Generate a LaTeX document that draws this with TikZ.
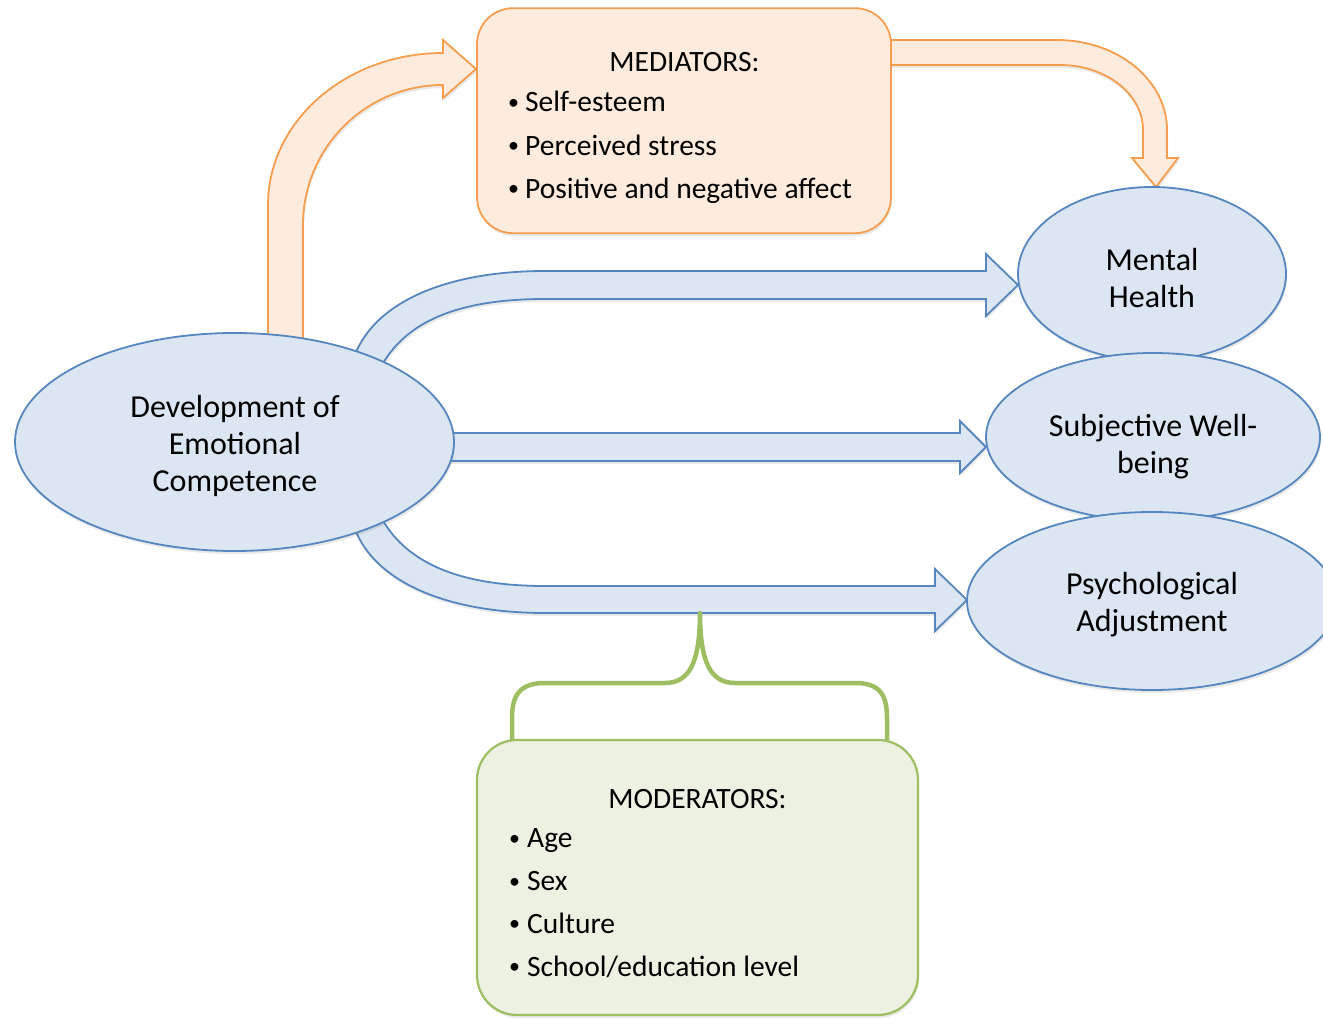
\documentclass[tikz,border=0pt]{standalone}
\usepackage{fontspec}
\setmainfont{Carlito}
\usetikzlibrary{shapes.geometric,shadows}
\definecolor{bluefill}{RGB}{220,230,242}
\definecolor{bluebd}{RGB}{86,134,192}
\definecolor{orgfill}{RGB}{253,235,222}
\definecolor{orgbd}{RGB}{247,157,78}
\definecolor{grnfill}{RGB}{236,241,225}
\definecolor{grnbd}{RGB}{157,190,97}
\newcommand\mybul[1]{\makebox[#1][l]{\hspace{1pt}\raisebox{2.5pt}{\fontsize{22}{22}\selectfont •}}}
\begin{document}
\begin{tikzpicture}[x=1pt,y=-1pt,
  shd/.style={drop shadow={shadow xshift=1pt,shadow yshift=-3pt,opacity=0.14,fill=black!60}},
  bshape/.style={draw=bluebd,fill=bluefill,line width=1.8pt,shd},
  oshape/.style={draw=orgbd,fill=orgfill,line width=1.8pt,shd},
  gshape/.style={draw=grnbd,fill=grnfill,line width=2.2pt,shd},
  ell/.style={ellipse,bshape,inner sep=0pt},
  ctext/.style={font=\fontsize{32}{37}\selectfont,align=center,anchor=base,inner sep=0pt},
  ltext/.style={font=\fontsize{29.5}{43.2}\selectfont,align=left,anchor=base west,inner sep=0pt},
  mtext/.style={font=\fontsize{29.5}{42.7}\selectfont,align=left,anchor=base west,inner sep=0pt},
  ttext/.style={font=\fontsize{29.5}{43}\selectfont,anchor=base,inner sep=0pt},
  brace/.style={draw=grnbd,line width=4.5pt,line cap=butt,line join=round}
]
\useasboundingbox (0,0) rectangle (1323,1019);

% orange arrow: development -> mediators
\path[oshape] (268,345) -- (268,205) .. controls (268,121.1) and (346.3,53) .. (443,53)
  -- (443,40) -- (476,69) -- (443,98) -- (443,85)
  .. controls (365.7,85) and (303,147.7) .. (303,225) -- (303,345) -- cycle;

% blue arrows
\path[bshape] (346,374) -- (357,350) .. controls (380,300) and (450,271) .. (545,271)
  -- (986,271) -- (986,254) -- (1018,285) -- (986,316) -- (986,299) -- (545,299)
  .. controls (465,299) and (412,318) .. (385,360) -- (372,380) -- cycle;
\path[bshape] (440,433) -- (960,433) -- (960,421) -- (986,447) -- (960,473) -- (960,461) -- (440,461) -- cycle;
\path[bshape] (346,510) -- (357,534) .. controls (380,584) and (450,613) .. (545,613)
  -- (935,613) -- (935,631) -- (967,600) -- (935,569) -- (935,586) -- (545,586)
  .. controls (465,586) and (412,566) .. (385,524) -- (372,504) -- cycle;

% orange arrow: mediators -> mental health
\path[oshape] (880,40) -- (1057,40) .. controls (1117.8,40) and (1167,80.3) .. (1167,130)
  -- (1167,158) -- (1178,158) -- (1156,187) -- (1132,158) -- (1143,158) -- (1143,130)
  .. controls (1143,94.1) and (1105.8,65) .. (1060,65) -- (880,65) -- cycle;

% ellipses
\node[ell,minimum width=439pt,minimum height=218pt] (dev) at (234.5,442) {};
\node[ctext] (devt) at (235,491.7) {Development of\\Emotional\\Competence};

\node[ell,minimum width=268pt,minimum height=174pt] (mh) at (1152,274) {};
\node[ctext] (mht) at (1152,307) {Mental\\Health};

\node[ell,minimum width=334pt,minimum height=168pt] (swb) at (1153,437) {};
\node[ctext] (swbt) at (1153,473.3) {Subjective Well-\\being};

\node[ell,minimum width=370pt,minimum height=178pt] (pa) at (1152,601) {};
\node[ctext] (pat) at (1152,631.7) {Psychological\\Adjustment};

% mediators box
\node[oshape,rectangle,rounded corners=36pt,minimum width=414pt,minimum height=225pt,inner sep=0pt] (med) at (684,120.7) {};
\node[ttext] (medt) at (684.5,71.7) {MEDIATORS:};
\node[ltext] (medl) at (507,198.3) {\mybul{18pt}Self-esteem\\\mybul{18pt}Perceived stress\\\mybul{18pt}Positive and negative affect};

% moderators brace
\path[brace] (512,742) -- (512,718) .. controls (512,695) and (520,683) .. (545,683) -- (665,683)
  .. controls (688,683) and (700,665) .. (700,613) .. controls (700,665) and (712,683) .. (735,683)
  -- (855,683) .. controls (880,683) and (887,695) .. (887,718) -- (887,742);

% moderators box
\node[gshape,rectangle,rounded corners=40pt,minimum width=441pt,minimum height=275pt,inner sep=0pt] (mod) at (697.5,877.5) {};
\node[ttext] (modt) at (697.5,808) {MODERATORS:};
\node[mtext] (modl) at (508,976) {\mybul{19pt}Age\\\mybul{19pt}Sex\\\mybul{19pt}Culture\\\mybul{19pt}School/education level};
\end{tikzpicture}
\end{document}
